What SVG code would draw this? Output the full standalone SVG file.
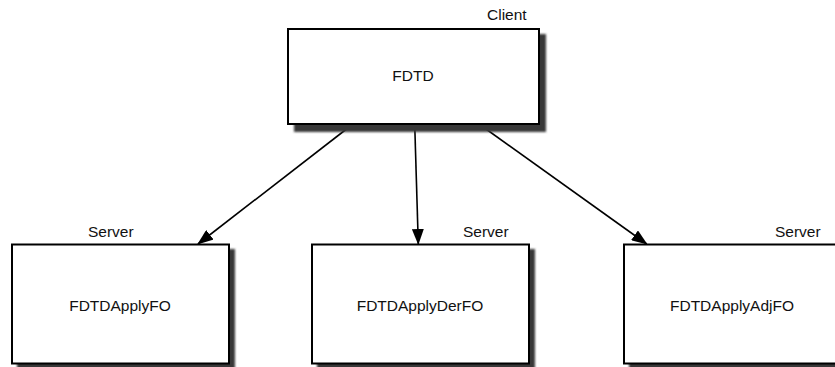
<svg xmlns="http://www.w3.org/2000/svg" width="835" height="367" viewBox="0 0 835 367">
<defs>
<style>
.box{fill:#fff;stroke:#000;stroke-width:2}
.shadow{fill:#383838;filter:url(#blur)}
.lbl{font-family:"Liberation Sans",Arial,sans-serif;font-size:15.5px;fill:#111}
.conn{stroke:#000;stroke-width:1.6;fill:none;marker-end:url(#arrow)}
</style>
<filter id="blur" x="-10%" y="-10%" width="120%" height="120%"><feGaussianBlur stdDeviation="1.2"/></filter>
<marker id="arrow" markerUnits="userSpaceOnUse" markerWidth="16" markerHeight="12" viewBox="0 0 16 12" refX="15" refY="6" orient="auto">
<path d="M0,0 L16,6 L0,12 Z" fill="#000"/>
</marker>
</defs>
<g id="connectors">
<line class="conn" x1="353" y1="124" x2="198" y2="244"/>
<line class="conn" x1="414.7" y1="124" x2="418.3" y2="244"/>
<line class="conn" x1="479" y1="124" x2="646.7" y2="244"/>
</g>
<g id="node-fdtd">
<rect class="shadow" x="294" y="34" width="252" height="98"/>
<rect class="box" x="288" y="29" width="251" height="95"/>
<text class="lbl" x="413" y="81" text-anchor="middle">FDTD</text>
<text class="lbl" x="487" y="20">Client</text>
</g>
<g id="node-applyfo">
<rect class="shadow" x="17" y="249" width="218" height="121"/>
<rect class="box" x="12" y="244.5" width="217" height="119"/>
<text class="lbl" x="120" y="311" text-anchor="middle">FDTDApplyFO</text>
<text class="lbl" x="88" y="237">Server</text>
</g>
<g id="node-applyderfo">
<rect class="shadow" x="317" y="249" width="218" height="121"/>
<rect class="box" x="312" y="244.5" width="217" height="119"/>
<text class="lbl" x="420" y="311" text-anchor="middle">FDTDApplyDerFO</text>
<text class="lbl" x="463" y="237">Server</text>
</g>
<g id="node-applyadjfo">
<rect class="shadow" x="629" y="249" width="218" height="121"/>
<rect class="box" x="624" y="244.5" width="217" height="119"/>
<text class="lbl" x="732" y="311" text-anchor="middle">FDTDApplyAdjFO</text>
<text class="lbl" x="775" y="237">Server</text>
</g>
</svg>
